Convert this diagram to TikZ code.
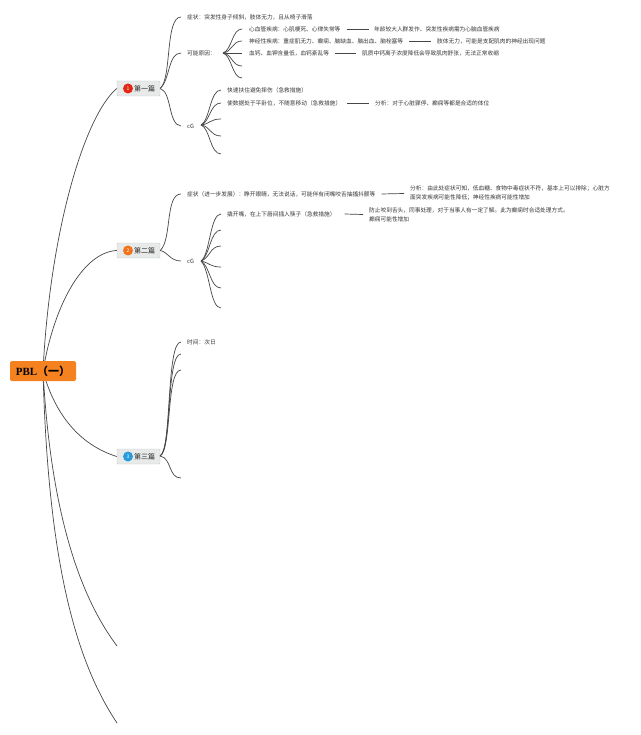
\documentclass[tikz,border=0pt]{standalone}
\usepackage{fontspec}
\setmainfont{Noto Sans CJK SC}
\newfontfamily\rootfont{Liberation Serif}
\definecolor{rootorange}{RGB}{245,130,32}
\definecolor{topicgray}{RGB}{232,234,234}
\definecolor{topicedge}{RGB}{200,205,205}
\definecolor{linkgray}{RGB}{70,70,70}
\definecolor{badgered}{RGB}{226,40,20}
\definecolor{badgeorange}{RGB}{240,115,30}
\definecolor{badgeblue}{RGB}{40,155,220}
\definecolor{textgray}{RGB}{55,55,55}
\begin{document}
\begin{tikzpicture}[
    x=1pt, y=-1pt,
    rootbox/.style={rectangle, fill=rootorange, rounded corners=1.5pt, minimum width=66pt, minimum height=20pt, inner sep=0pt, font=\rootfont\bfseries\fontsize{11}{11}\selectfont},
    topic/.style={rectangle, draw=topicedge, fill=topicgray, rounded corners=1pt, minimum width=43pt, minimum height=15pt, inner sep=0pt},
    badge/.style={circle, minimum size=10pt, inner sep=0pt, text=white, font=\fontsize{5}{5}\selectfont},
    topictext/.style={anchor=west, inner sep=0pt, text=black!85, font=\fontsize{7}{7}\selectfont},
    leaf/.style={anchor=west, inner sep=0pt, text=textgray, font=\fontsize{5.7}{9}\selectfont, align=left},
    link/.style={draw=linkgray, line width=0.7pt}
]
    \useasboundingbox (0,0) rectangle (640,735);
    \fill[white] (0,0) rectangle (640,735);

    % Free ends of the branches
    \foreach \name/\px/\py in {
        a3/242/66, a4/242/78,
        b2/221/119, b3/221/136, b4/221/154,
        c1/221/230, c2/221/246, c3/221/267, c4/221/288, c5/221/308,
        d1/181/354, d2/181/370, d3/181/478,
        e1/117/646, e2/117/723} {
        \coordinate (\name) at (\px,\py);
    }
    \coordinate (hubA) at (223,53);
    \coordinate (hubB) at (201,125);
    \coordinate (hubC) at (201,261);
    \coordinate (hubR) at (43,371);
    \coordinate (hubD) at (160,456);

    % First part
    \node[topic] (one) at (138.5,88.5) {};
    \node[badge, fill=badgered] (oneb) at (128,88.5) {1};
    \node[topictext] (onet) at (134,88.5) {第一篇};
    \node[leaf] (sym) at (187,17) {症状：突发性身子倾斜，肢体无力，且从椅子滑落};
    \node[leaf] (cause) at (187,53) {可能原因：};
    \node[leaf] (cga) at (187,126) {cG};
    \node[leaf] (heart) at (249,29) {心血管疾病：心肌梗死、心律失常等};
    \node[leaf] (nerve) at (249,41) {神经性疾病：重症肌无力、癫痫、脑缺血、脑出血、脑栓塞等};
    \node[leaf] (calc) at (249,53) {血钙、血钾含量低，血钙紊乱等};
    \node[leaf] (hearta) at (374,29) {年龄较大人群发作、突发性疾病需为心脑血管疾病};
    \node[leaf] (nervea) at (437,41) {肢体无力，可能是支配肌肉的神经出现问题};
    \node[leaf] (calca) at (362,53) {肌质中钙离子浓度降低会导致肌肉舒张，无法正常收缩};
    \node[leaf] (holdp) at (227,90) {快速扶住避免摔伤（急救措施）};
    \node[leaf] (flat) at (227,103) {使数据处于平卧位，不随意移动（急救措施）};
    \node[leaf] (flata) at (375,103) {分析：对于心脏骤停、癫痫等都是合适的体位};

    % Second part
    \node[topic] (two) at (138.5,250.5) {};
    \node[badge, fill=badgeorange] (twob) at (128,250.5) {2};
    \node[topictext] (twot) at (134,250.5) {第二篇};
    \node[leaf] (symb) at (187,194) {症状（进一步发展）：睁开眼睛，无法说话，可能伴有闭嘴咬舌抽搐抖颤等};
    \node[leaf] (symba) at (410,193.5) {分析：由此处症状可知，低血糖、食物中毒症状不符，基本上可以排除；心脏方\\面突发疾病可能性降低；神经性疾病可能性增加};
    \node[leaf] (cgb) at (187,261) {cG};
    \node[leaf] (open) at (227,214) {撬开嘴，在上下唇间插入筷子（急救措施）};
    \node[leaf] (opena) at (369,214.5) {防止咬到舌头，同事处理，对于当事人有一定了解。此为癫痫时合适处理方式。\\癫痫可能性增加};

    % Third part
    \node[topic] (three) at (138.5,456.5) {};
    \node[badge, fill=badgeblue] (threeb) at (128,456.5) {3};
    \node[topictext] (threet) at (134,456.5) {第三篇};
    \node[leaf] (time) at (187,342) {时间：次日};

    % Root on top of its links
    \begin{scope}[every path/.style={link}]
        \draw (hubR) .. controls (50,230) and (85,115) .. (one.west);
        \draw (hubR) .. controls (55,300) and (85,252) .. (two.west);
        \draw (hubR) .. controls (55,415) and (80,445) .. (three.west);
        \draw (hubR) .. controls (50,500) and (75,590) .. (e1);
        \draw (hubR) .. controls (48,560) and (75,660) .. (e2);

        \draw (one.east) .. controls (172,78) and (165,17) .. ([xshift=-6pt]sym.west);
        \draw (one.east) .. controls (170,80) and (168,53) .. ([xshift=-6pt]cause.west);
        \draw (one.east) .. controls (172,92) and (168,125) .. ([xshift=-6pt]cga.west);
        \draw (hubA) .. controls (232,50) and (232,29) .. ([xshift=-7pt]heart.west);
        \draw (hubA) .. controls (232,52) and (232,41) .. ([xshift=-7pt]nerve.west);
        \draw (hubA) -- ([xshift=-7pt]calc.west);
        \draw (hubA) .. controls (232,54) and (232,66) .. (a3);
        \draw (hubA) .. controls (232,56) and (232,78) .. (a4);
        \draw (hubB) .. controls (210,120) and (210,90) .. ([xshift=-6pt]holdp.west);
        \draw (hubB) .. controls (210,122) and (210,103) .. ([xshift=-6pt]flat.west);
        \draw (hubB) .. controls (210,124) and (210,119) .. (b2);
        \draw (hubB) .. controls (210,126) and (210,136) .. (b3);
        \draw (hubB) .. controls (210,128) and (210,154) .. (b4);

        \draw (two.east) .. controls (172,240) and (165,194) .. ([xshift=-6pt]symb.west);
        \draw (two.east) .. controls (168,252) and (170,261) .. ([xshift=-6pt]cgb.west);
        \draw (hubC) .. controls (210,255) and (210,214) .. ([xshift=-6pt]open.west);
        \draw (hubC) .. controls (210,256) and (210,230) .. (c1);
        \draw (hubC) .. controls (210,258) and (210,246) .. (c2);
        \draw (hubC) .. controls (210,263) and (210,267) .. (c3);
        \draw (hubC) .. controls (210,266) and (210,288) .. (c4);
        \draw (hubC) .. controls (210,270) and (210,308) .. (c5);

        \draw (hubD) .. controls (172,450) and (166,342) .. ([xshift=-6pt]time.west);
        \draw (hubD) .. controls (172,450) and (166,354) .. (d1);
        \draw (hubD) .. controls (172,450) and (166,370) .. (d2);
        \draw (hubD) .. controls (172,458) and (168,478) .. (d3);

        % Short rules between a text and its note
        \draw ([xshift=6pt]heart.east) -- ([xshift=-5pt]hearta.west);
        \draw ([xshift=6pt]nerve.east) -- ([xshift=-6pt]nervea.west);
        \draw ([xshift=6pt]calc.east) -- ([xshift=-6pt]calca.west);
        \draw ([xshift=6pt]flat.east) -- ([xshift=-6pt]flata.west);
        \draw ([xshift=6pt]symb.east) -- ([xshift=-6pt]symba.west);
        \draw ([xshift=9pt]open.east) -- ([xshift=-6pt]opena.west);
    \end{scope}

    \node[rootbox] (root) at (43,371) {PBL{\fontspec{Noto Sans CJK SC}（一）}};
\end{tikzpicture}
\end{document}
